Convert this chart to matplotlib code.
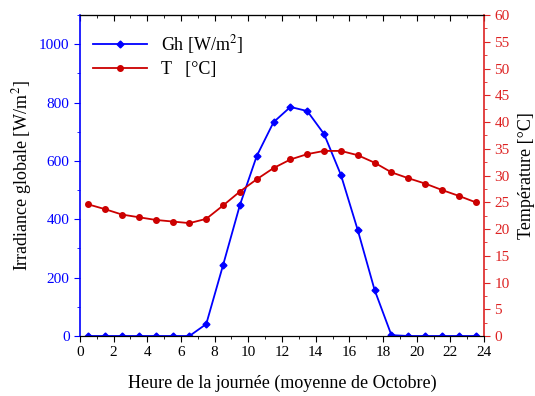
import numpy as np
import matplotlib
matplotlib.use('Agg')
import matplotlib.pyplot as plt
from matplotlib.ticker import MultipleLocator

# Data
#################
hours = [0.5, 1.5, 2.5, 3.5, 4.5, 5.5, 6.5, 7.5, 8.5, 9.5, 10.5, 11.5,
         12.5, 13.5, 14.5, 15.5, 16.5, 17.5, 18.5, 19.5, 20.5, 21.5, 22.5, 23.5]
gh = [0, 0, 0, 0, 0, 0, 0, 41, 243, 449, 617, 733,
      785, 771, 692, 552, 363, 158, 3, 0, 0, 0, 0, 0]
temp = [24.6, 23.7, 22.7, 22.2, 21.7, 21.4, 21.1, 21.9, 24.4, 27.0, 29.3, 31.4,
        33.0, 34.0, 34.6, 34.6, 33.8, 32.4, 30.6, 29.5, 28.5, 27.3, 26.2, 25.0]
#################

plt.rcParams['font.family'] = ['Liberation Serif', 'DejaVu Serif']
plt.rcParams['mathtext.fontset'] = 'stix'

blue = '#0000ff'
red = '#cc0000'
red_ax = '#dd2222'

fig = plt.figure(figsize=(5.35, 3.96), dpi=100)
ax = fig.add_axes([0.1495, 0.1515, 0.7552, 0.8105])
ax2 = ax.twinx()

l1, = ax.plot(hours, gh, color=blue, marker='D', markersize=3.5, lw=1.3, label='Gh [W/m$^2$]')
l2, = ax2.plot(hours, temp, color=red, marker='o', markersize=4, lw=1.3, label='T   [°C]')

ax.set_xlim(0, 24)
ax.set_ylim(0, 1100)
ax2.set_ylim(0, 60)

ax.xaxis.set_major_locator(MultipleLocator(2))
ax.xaxis.set_minor_locator(MultipleLocator(1))
ax.yaxis.set_major_locator(MultipleLocator(200))
ax.yaxis.set_minor_locator(MultipleLocator(100))
ax2.yaxis.set_major_locator(MultipleLocator(5))
ax2.yaxis.set_minor_locator(MultipleLocator(2.5))

ax.tick_params(axis='x', which='both', direction='out', labelsize=11)
ax.tick_params(axis='x', which='major', length=4)
ax.tick_params(axis='x', which='minor', length=2.5)
ax.tick_params(axis='y', which='both', colors=blue, labelsize=11)
ax.tick_params(axis='y', which='major', length=4)
ax.tick_params(axis='y', which='minor', length=2.5)
ax2.tick_params(axis='y', which='both', colors=red_ax, labelsize=11)
ax2.tick_params(axis='y', which='major', length=4)
ax2.tick_params(axis='y', which='minor', length=2.5)

# top ticks point inward
top = ax.secondary_xaxis('top')
top.xaxis.set_major_locator(MultipleLocator(2))
top.xaxis.set_minor_locator(MultipleLocator(1))
top.tick_params(axis='x', which='both', direction='in', labeltop=False)
top.tick_params(axis='x', which='major', length=4)
top.tick_params(axis='x', which='minor', length=2.5)

ax.spines['left'].set_color(blue)
ax.spines['left'].set_linewidth(1.2)
ax2.spines['left'].set_visible(False)
ax2.spines['right'].set_color(red_ax)
ax2.spines['right'].set_linewidth(1.2)
ax.spines['right'].set_visible(False)

ax.set_xlabel('Heure de la journée (moyenne de Octobre)', fontsize=13, labelpad=11)
ax.set_ylabel('Irradiance globale [W/m$^2$]', fontsize=13)
ax2.set_ylabel('Température [°C]', fontsize=13, labelpad=6)

ax.legend(handles=[l1, l2], loc='upper left', frameon=False, fontsize=13,
          handlelength=3, borderaxespad=0.3, labelspacing=0.3, bbox_to_anchor=(0.0, 0.985))

plt.savefig('out.png', dpi=100)
plt.close()
